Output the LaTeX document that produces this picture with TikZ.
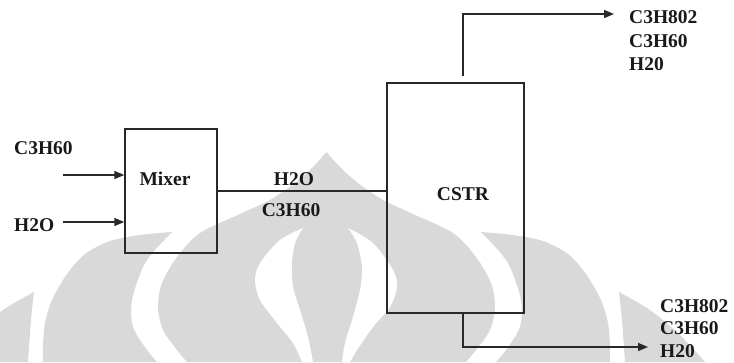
\documentclass[tikz,border=0pt]{standalone}
\usepackage{fontspec}
\setmainfont{Liberation Serif}
\usetikzlibrary{arrows.meta}
\definecolor{wm}{RGB}{217,217,217}
\definecolor{ln}{RGB}{40,40,40}
\begin{document}
\begin{tikzpicture}[x=1pt,y=-1pt,
  box/.style={draw=ln,line width=1.4pt,inner sep=0pt,fill=none},
  lbl/.style={inner sep=0pt,font=\fontsize{19.5}{23.5}\selectfont\bfseries,text=black!90},
  flow/.style={draw=ln,line width=1.4pt},
  arr/.style={flow,-{Triangle[length=10pt,width=8pt]}}]
\useasboundingbox (0,0) rectangle (734,362);
% watermark
\begin{scope}
\clip (0,0) rectangle (734,362);
% outer lobes A
\fill[wm] plot[smooth] coordinates {(34,292) (3,310) (-27,335) (-52,362)} -- (28,362)
  -- plot[smooth] coordinates {(28,362) (31,320) (34,292)} -- cycle;
\fill[wm] plot[smooth] coordinates {(619,292) (650,310) (680,335) (705,362)} -- (625,362)
  -- plot[smooth] coordinates {(625,362) (622,320) (619,292)} -- cycle;
% lobes B
\fill[wm] plot[smooth] coordinates {(172,232) (140,235) (110,241) (85,254) (67,274) (52,300) (45,323) (43,345) (43,362)}
  -- (157,362) -- plot[smooth] coordinates {(157,362) (147,350) (133,327) (132,300) (143,267) (155,250) (172,232)} -- cycle;
\fill[wm] plot[smooth] coordinates {(481,232) (513,235) (543,241) (568,254) (586,274) (601,300) (608,323) (610,345) (610,362)}
  -- (496,362) -- plot[smooth] coordinates {(496,362) (506,350) (520,327) (521,300) (510,267) (498,250) (481,232)} -- cycle;
% central dome C
\fill[wm] plot[smooth] coordinates {(187,362) (177,350) (163,330) (158,307) (162,283) (177,257) (200,233) (240,214) (270,200) (295,183) (312,168) (326.5,152)}
  -- plot[smooth] coordinates {(326.5,152) (341,168) (358,183) (383,200) (413,214) (453,233) (476,257) (491,283) (495,307) (490,330) (476,350) (466,362)} -- cycle;
% white inner lobes
\fill[white] plot[smooth] coordinates {(303,228) (280,240) (260,263) (255,280) (260,300) (277,323) (293,343) (302,362)}
  -- (313,362) -- plot[smooth] coordinates {(313,362) (308,337) (300,310) (293,287) (292,263) (295,243) (303,228)} -- cycle;
\fill[white] plot[smooth] coordinates {(348,228) (373,243) (393,270) (397,287) (390,307) (373,327) (357,350) (350,362)}
  -- (342,362) -- plot[smooth] coordinates {(342,362) (345,343) (353,317) (360,290) (362,267) (357,243) (348,228)} -- cycle;
\end{scope}
% units
\node[box,minimum width=92pt,minimum height=124pt] (mixer) at (171,191) {};
\node[box,minimum width=137pt,minimum height=230pt] (cstr) at (455.5,198) {};
\node[lbl] (mixerlbl) at (165,179) {Mixer};
\node[lbl] (cstrlbl) at (463,194) {CSTR};
% feeds
\node[lbl,anchor=west] (feedA) at (14,148) {C3H60};
\node[lbl,anchor=west] (feedB) at (14,225) {H2O};
\coordinate (inA) at (63,175);
\coordinate (inB) at (63,222);
\draw[arr] (inA) -- (inA -| mixer.west);
\draw[arr] (inB) -- (inB -| mixer.west);
% mixer to cstr
\draw[flow] (mixer.east) -- (mixer.east -| cstr.west);
\node[lbl] (midA) at (294,179) {H2O};
\node[lbl] (midB) at (291,210) {C3H60};
% top outlet
\coordinate (topst) at (463,76);
\coordinate (topend) at (614,14);
\draw[arr] (topst) |- (topend);
\node[lbl,anchor=west] (topA) at (629,17.5) {C3H802};
\node[lbl,anchor=west] (topB) at (629,41) {C3H60};
\node[lbl,anchor=west] (topC) at (629,64.5) {H20};
% bottom outlet
\coordinate (botend) at (648,347);
\draw[arr] (cstr.south -| topst) |- (botend);
\node[lbl,anchor=west] (botA) at (660,306) {C3H802};
\node[lbl,anchor=west] (botB) at (660,328.5) {C3H60};
\node[lbl,anchor=west] (botC) at (660,351) {H20};
\end{tikzpicture}
\end{document}
